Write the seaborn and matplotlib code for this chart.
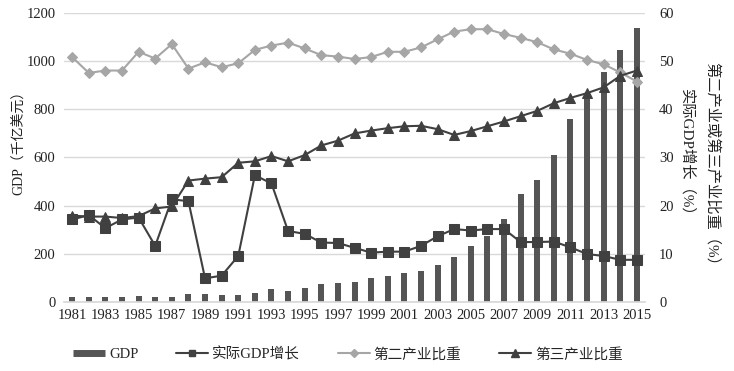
import matplotlib
matplotlib.use("Agg")
import matplotlib.pyplot as plt
from matplotlib.lines import Line2D
import seaborn as sns
import pandas as pd

years = list(range(1981, 2016))
gdp = [18, 18, 21, 21, 23, 18, 20, 32, 32, 26, 26, 37, 51, 45, 58, 72, 79, 83,
       97, 105, 118, 129, 153, 184, 230, 274, 343, 449, 505, 611, 762, 870, 954, 1048, 1140]
growth = [17.1, 18.0, 15.3, 17.1, 17.5, 11.6, 21.3, 20.9, 4.85, 5.4, 9.5, 26.3, 24.6, 14.7,
          14.1, 12.3, 12.2, 11.2, 10.2, 10.4, 10.4, 11.6, 13.6, 15.1, 14.8, 15.1, 15.1, 12.4,
          12.4, 12.5, 11.3, 9.9, 9.5, 8.7, 8.7]
secondary = [50.9, 47.6, 48.1, 48.1, 52.0, 50.6, 53.6, 48.5, 49.8, 48.8, 49.6, 52.4, 53.3,
             53.9, 52.7, 51.3, 51.0, 50.5, 50.9, 52.0, 52.0, 52.9, 54.6, 56.2, 56.7, 56.7,
             55.7, 54.9, 54.0, 52.5, 51.6, 50.3, 49.4, 47.7, 45.8]
tertiary = [17.9, 17.7, 17.7, 17.4, 17.8, 19.4, 19.8, 25.2, 25.6, 25.9, 28.9, 29.2, 30.3,
            29.2, 30.5, 32.5, 33.5, 35.0, 35.6, 36.1, 36.5, 36.6, 35.9, 34.7, 35.5, 36.5,
            37.5, 38.6, 39.7, 41.3, 42.4, 43.4, 44.6, 47.0, 48.1]
labels = ["GDP", "实际GDP增长", "第二产业比重", "第三产业比重"]

df = pd.DataFrame({"year": years, "gdp": gdp, "growth": growth,
                   "secondary": secondary, "tertiary": tertiary})

sns.set_theme(style="white")
plt.rcParams["font.family"] = ["Liberation Serif", "Noto Sans CJK SC", "DejaVu Sans"]

fig = plt.figure(figsize=(7.34, 3.71), dpi=100)
ax = fig.add_axes([0.087, 0.187, 0.792, 0.777])
ax2 = ax.twinx()

bar_c = "#555555"
dark = "#404040"
light = "#a6a6a6"

sns.barplot(data=df, x="year", y="gdp", native_scale=True, width=0.36,
            color=bar_c, saturation=1, ax=ax, zorder=2, linewidth=0)

sns.lineplot(data=df, x="year", y="growth", ax=ax2, color=dark, marker="s",
             markersize=6.5, markeredgecolor=dark, linewidth=1.5)
sns.lineplot(data=df, x="year", y="secondary", ax=ax2, color=light, marker="D",
             markersize=5.5, markeredgecolor=light, linewidth=1.5)
sns.lineplot(data=df, x="year", y="tertiary", ax=ax2, color=dark, marker="^",
             markersize=7, markeredgecolor=dark, linewidth=1.5)

ax.set_xlim(1980.5, 2015.5)
ax.set_ylim(0, 1200)
ax2.set_ylim(0, 60)
ax.set_yticks(range(0, 1201, 200))
ax2.set_yticks(range(0, 61, 10))
ax.set_xticks(range(1981, 2016, 2))
ax.set_xticklabels([str(y) for y in range(1981, 2016, 2)])
ax.yaxis.grid(True, color="#d9d9d9", linewidth=1)
ax.set_axisbelow(True)
for a in (ax, ax2):
    for s in a.spines.values():
        s.set_visible(False)
    a.tick_params(length=0, labelsize=10.5, colors="#222222")
    a.set_xlabel("")
    a.set_ylabel("")
ax.spines["bottom"].set_visible(True)
ax.spines["bottom"].set_color("#d9d9d9")
ax.tick_params(axis="x", pad=5)
ax.tick_params(axis="y", pad=6)
ax2.tick_params(axis="y", pad=10)

cjk = ["Liberation Serif", "Noto Sans CJK SC"]
fig.text(0.026, 0.625, "GDP（千亿美元）", rotation=90, ha="center", va="center",
         fontsize=10, family=cjk, color="#222222")
fig.text(0.936, 0.578, "实际GDP增长（%）", rotation=270, ha="center", va="center",
         fontsize=11, family=cjk, color="#222222")
fig.text(0.970, 0.549, "第二产业或第三产业比重（%）", rotation=270, ha="center", va="center",
         fontsize=11, family=cjk, color="#222222")

handles = [Line2D([], [], color=bar_c, linewidth=5, solid_capstyle="butt"),
           Line2D([], [], color=dark, marker="s", markersize=5, linewidth=1.5),
           Line2D([], [], color=light, marker="D", markersize=4.5, linewidth=1.5),
           Line2D([], [], color=dark, marker="^", markersize=6, linewidth=1.5)]
fig.legend(handles, labels, loc="center", bbox_to_anchor=(0.474, 0.045), ncol=4,
           frameon=False, handlelength=2.2,
           columnspacing=2.6, handletextpad=0.25, prop={"family": cjk, "size": 10.5})

fig.savefig("out.png", dpi=100)
